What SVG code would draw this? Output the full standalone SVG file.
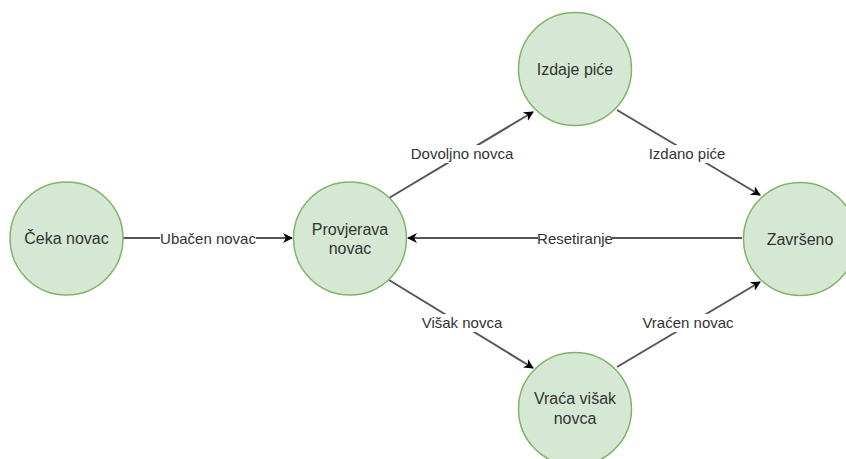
<svg xmlns="http://www.w3.org/2000/svg" width="846" height="459" viewBox="0 0 846 459">
<defs>
<marker id="arr" viewBox="0 0 10 10" refX="9" refY="5" markerWidth="10" markerHeight="10" markerUnits="userSpaceOnUse" orient="auto">
<path d="M0,0 L10,5 L0,10 L3,5 Z" fill="#000"/>
</marker>
<style>
.node{fill:#d5e8d4;stroke:#82b366;stroke-width:1.5}
.nt{font-family:"Liberation Sans",Arial,sans-serif;font-size:16px;fill:#333;text-anchor:middle}
.edge{stroke:#555;stroke-width:2;fill:none;marker-end:url(#arr)}
.el{font-family:"Liberation Sans",Arial,sans-serif;font-size:15px;fill:#333;text-anchor:middle}
.lb{fill:#fff}
</style>
</defs>
<rect width="846" height="459" fill="#fff"/>
<g id="connectors">
<line class="edge" x1="123" y1="238" x2="292" y2="238"/>
<line class="edge" x1="389" y1="198" x2="533" y2="112"/>
<line class="edge" x1="617" y1="110" x2="760" y2="195"/>
<line class="edge" x1="742" y1="238" x2="408" y2="238"/>
<line class="edge" x1="389" y1="280" x2="533" y2="368"/>
<line class="edge" x1="617" y1="367" x2="760" y2="282"/>
<rect class="lb" x="160" y="229" width="96" height="18"/>
<text class="el" x="208" y="244">Ubačen novac</text>
<rect class="lb" x="410" y="145" width="104" height="18"/>
<text class="el" x="462" y="159">Dovoljno novca</text>
<rect class="lb" x="648" y="145" width="78" height="18"/>
<text class="el" x="687" y="159">Izdano piće</text>
<rect class="lb" x="538" y="229" width="74" height="18"/>
<text class="el" x="575" y="244">Resetiranje</text>
<rect class="lb" x="422" y="314" width="80" height="18"/>
<text class="el" x="462" y="328">Višak novca</text>
<rect class="lb" x="642" y="314" width="92" height="18"/>
<text class="el" x="688" y="328">Vraćen novac</text>
</g>
<g id="ceka">
<circle class="node" cx="66.5" cy="238.5" r="56.5"/>
<text class="nt" x="66.5" y="244">Čeka novac</text>
</g>
<g id="provjerava">
<circle class="node" cx="350" cy="238.5" r="56.5"/>
<text class="nt" x="350" y="235">Provjerava</text>
<text class="nt" x="350" y="254">novac</text>
</g>
<g id="izdaje">
<circle class="node" cx="575" cy="69" r="56.5"/>
<text class="nt" x="575" y="75">Izdaje piće</text>
</g>
<g id="vraca">
<circle class="node" cx="575" cy="409" r="56.5"/>
<text class="nt" x="575" y="404">Vraća višak</text>
<text class="nt" x="575" y="424">novca</text>
</g>
<g id="zavrseno">
<circle class="node" cx="800" cy="239" r="56.5"/>
<text class="nt" x="800" y="245">Završeno</text>
</g>
</svg>
